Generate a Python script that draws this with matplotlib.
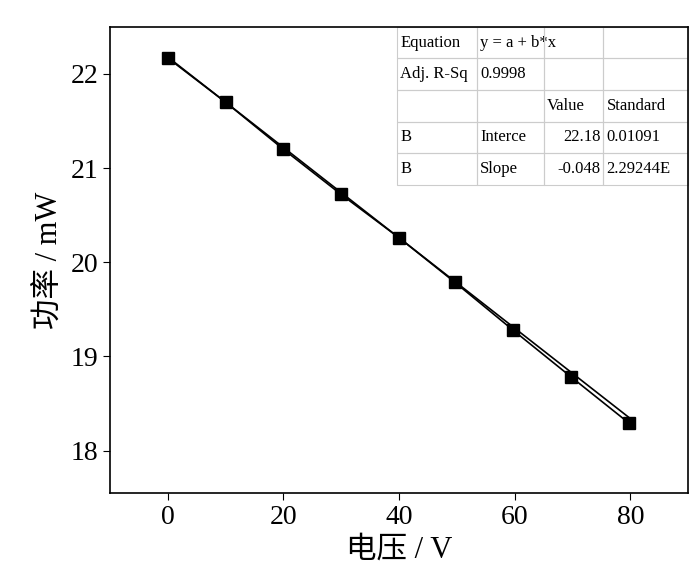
import matplotlib.pyplot as plt
import numpy as np

plt.rcParams['font.family'] = ['Liberation Serif', 'Noto Sans CJK SC']

voltage = [0, 10, 20, 30, 40, 49.6, 59.7, 69.8, 79.8]
power = [22.17, 21.70, 21.20, 20.72, 20.26, 19.79, 19.28, 18.78, 18.29]
fit_a, fit_b = 22.18, -0.048

table_rows = [
    ['Equation', 'y = a + b*x', '', ''],
    ['Adj. R-Sq', '0.9998', '', ''],
    ['', '', 'Value', 'Standard'],
    ['B', 'Interce', '22.18', '0.01091'],
    ['B', 'Slope', '-0.048', '2.29244E'],
]

fig = plt.figure(figsize=(7, 5.84), dpi=100)
ax = fig.add_axes([0.157, 0.156, 0.826, 0.798])

ax.plot(voltage, power, color='black', marker='s', markersize=8, linewidth=1.2)
xf = np.array([voltage[0], voltage[-1]])
ax.plot(xf, fit_a + fit_b * xf, color='black', linewidth=1.2)

ax.set_xlim(-10, 90)
ax.set_ylim(17.55, 22.5)
ax.set_xticks([0, 20, 40, 60, 80])
ax.set_yticks([18, 19, 20, 21, 22])
ax.tick_params(labelsize=20, direction='out', length=5)
ax.set_xlabel('电压 / V', fontsize=22)
ax.set_ylabel('功率 / mW', fontsize=22)
for s in ax.spines.values():
    s.set_linewidth(1.2)

tbl = ax.table(cellText=table_rows, cellLoc='left',
               colWidths=[80, 67, 59, 85],
               bbox=[0.497, 0.661, 0.503, 0.339])
tbl.auto_set_font_size(False)
tbl.set_fontsize(12)
for (r, c), cell in tbl.get_celld().items():
    cell.set_edgecolor('#cccccc')
    cell.set_linewidth(0.8)
    cell.set_facecolor('none')
    cell.PAD = 0.04
    cell.get_text().set_clip_on(False)
    if r >= 3 and c == 2:
        cell._loc = 'right'
        cell.get_text().set_ha('right')

fig.savefig('out.png', dpi=100)
